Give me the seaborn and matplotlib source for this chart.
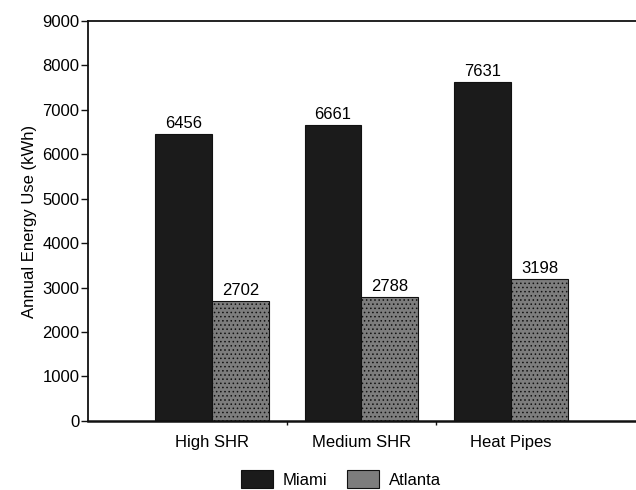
import matplotlib
matplotlib.use("Agg")
import matplotlib.pyplot as plt
import seaborn as sns
import pandas as pd

categories = ["High SHR", "Medium SHR", "Heat Pipes"]
miami = [6456, 6661, 7631]
atlanta = [2702, 2788, 3198]
yticks = [0, 1000, 2000, 3000, 4000, 5000, 6000, 7000, 8000, 9000]

df = pd.DataFrame({
    "System": categories * 2,
    "Energy": miami + atlanta,
    "City": ["Miami"] * 3 + ["Atlanta"] * 3,
})

sns.set_theme(style="white")
plt.rcParams["font.family"] = ["Liberation Sans", "DejaVu Sans"]
plt.rcParams["hatch.color"] = "#d8d8d8"
plt.rcParams["hatch.linewidth"] = 0.6
plt.rcParams["text.color"] = "#000000"

FS = 12

fig = plt.figure(figsize=(6.36, 4.9), dpi=100)
ax = fig.add_axes([0.138, 0.141, 0.87, 0.816])

sns.barplot(data=df, x="System", y="Energy", hue="City", order=categories,
            hue_order=["Miami", "Atlanta"], palette=["#1b1b1b", "#7d7d7d"],
            width=0.76, edgecolor="#111111", linewidth=0.8, ax=ax, legend=True)

hatches = {"Miami": "", "Atlanta": "...."}
for cont, name in zip(ax.containers, ["Miami", "Atlanta"]):
    for bar in cont:
        bar.set_hatch(hatches[name])
    ax.bar_label(cont, labels=[str(int(v)) for v in cont.datavalues], padding=2,
                 fontsize=FS, color="#000000")

ax.set_ylim(0, 9000)
ax.set_yticks(yticks)
ax.set_yticklabels([str(t) for t in yticks], fontsize=FS)
ax.set_xlim(-0.83, 2.87)
ax.set_xlabel("")
ax.set_ylabel("Annual Energy Use (kWh)", fontsize=FS, color="#000000", labelpad=4)
ax.tick_params(axis="y", left=True, direction="out", length=5, width=1.0,
               colors="#111111", labelcolor="#000000", pad=1)
ax.set_xticks([0.5, 1.5], minor=True)
ax.tick_params(axis="x", which="minor", bottom=True, direction="out", length=3, width=1.0, colors="#111111")
ax.tick_params(axis="x", which="major", length=0, pad=10, labelcolor="#000000")
ax.set_xticklabels(categories, fontsize=FS)
for s in ["left", "bottom", "top"]:
    ax.spines[s].set_color("#111111")
    ax.spines[s].set_linewidth(1.3)
ax.spines["bottom"].set_linewidth(1.8)
ax.spines["right"].set_visible(False)

handles, labels = ax.get_legend_handles_labels()
ax.get_legend().remove()
fig.legend(handles, labels, loc="center", bbox_to_anchor=(341 / 636, 11 / 490), ncol=2,
           frameon=False, fontsize=FS, handlelength=1.9, handleheight=1.2,
           columnspacing=1.2, handletextpad=0.6, borderpad=0.0)

fig.savefig("out.png", dpi=100)
